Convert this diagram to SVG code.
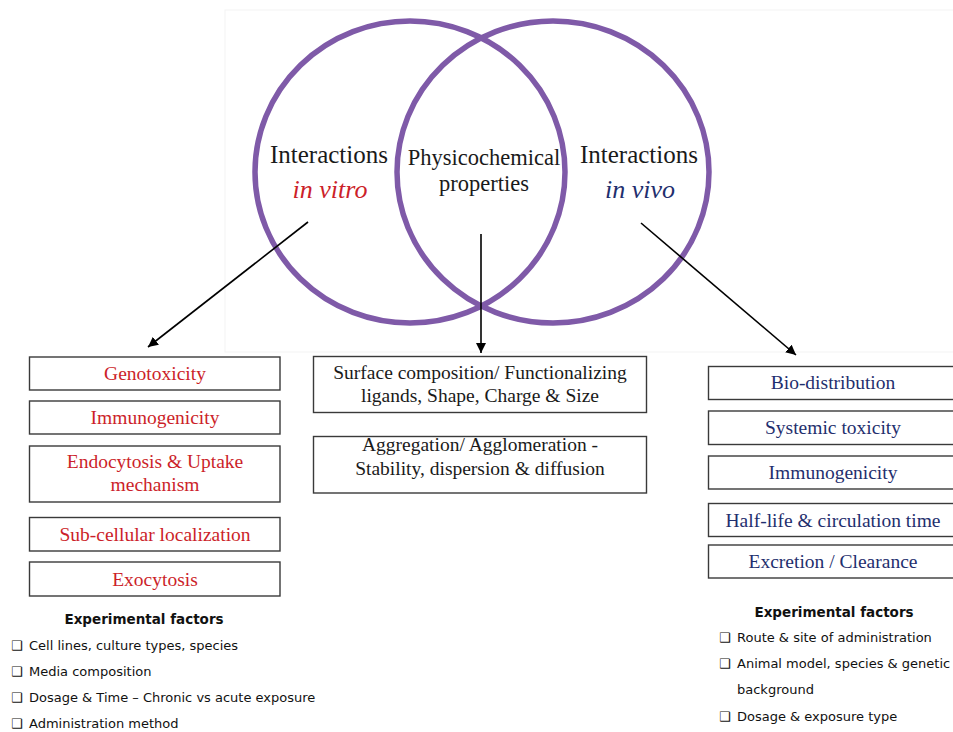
<svg xmlns="http://www.w3.org/2000/svg" width="953" height="732" viewBox="0 0 953 732">
<defs>
<marker id="ah" viewBox="0 0 10 10" refX="10" refY="5" markerWidth="10" markerHeight="10" markerUnits="userSpaceOnUse" orient="auto">
<path d="M0,0 L10,5 L0,10 z" fill="#000"/>
</marker>
<style>
.ring{fill:none;stroke:#7f5aa8;stroke-width:5.5}
.box{fill:#fff;stroke:#3a3a3a;stroke-width:1.4}
.t{font-family:"Liberation Serif",serif;font-size:19.5px;text-anchor:middle}
.red{fill:#cc1f2a}
.navy{fill:#1f2f6e}
.blk{fill:#1a1a1a}
.big{font-family:"Liberation Serif",serif;font-size:25px;text-anchor:middle;fill:#1a1a1a}
.mid{font-family:"Liberation Serif",serif;font-size:22.5px;text-anchor:middle;fill:#1a1a1a}
.it{font-family:"Liberation Serif",serif;font-size:26px;font-style:italic;text-anchor:middle}
.ef{font-family:"DejaVu Sans",sans-serif;font-size:13px;fill:#111}
.eft{font-family:"DejaVu Sans",sans-serif;font-size:13.5px;font-weight:bold;fill:#111;text-anchor:middle}
.conn{stroke:#000;stroke-width:1.6;fill:none}
</style>
</defs>
<rect width="953" height="732" fill="#fff"/>
<rect x="225" y="10" width="740" height="342" fill="none" stroke="#f3f3f3" stroke-width="1"/>

<g id="venn">
<ellipse class="ring" cx="410" cy="172" rx="155" ry="151"/>
<ellipse class="ring" cx="553" cy="172" rx="156" ry="151"/>
</g>

<g id="in-vitro-label">
<text class="big" x="329" y="163">Interactions</text>
<text class="it red" x="330" y="198">in vitro</text>
</g>
<g id="physchem-label">
<text class="mid" x="484" y="165">Physicochemical</text>
<text class="mid" x="484" y="191">properties</text>
</g>
<g id="in-vivo-label">
<text class="big" x="639" y="163">Interactions</text>
<text class="it navy" x="640" y="198">in vivo</text>
</g>

<g id="connectors">
<line class="conn" x1="308" y1="222" x2="148" y2="347" marker-end="url(#ah)"/>
<line class="conn" x1="481" y1="234" x2="481" y2="353" marker-end="url(#ah)"/>
<line class="conn" x1="641" y1="223" x2="796" y2="355" marker-end="url(#ah)"/>
</g>

<g id="genotoxicity"><rect class="box" x="29.5" y="357" width="250.5" height="33"/><text class="t red" x="155" y="380">Genotoxicity</text></g>
<g id="immunogenicity-vitro"><rect class="box" x="29.5" y="401" width="250.5" height="33"/><text class="t red" x="155" y="424">Immunogenicity</text></g>
<g id="endocytosis"><rect class="box" x="29.5" y="446" width="250.5" height="56"/><text class="t red" x="155" y="468">Endocytosis &amp; Uptake</text><text class="t red" x="155" y="491">mechanism</text></g>
<g id="subcellular"><rect class="box" x="29.5" y="517.5" width="250.5" height="33.5"/><text class="t red" x="155" y="541">Sub-cellular localization</text></g>
<g id="exocytosis"><rect class="box" x="29.5" y="562" width="250.5" height="34"/><text class="t red" x="155" y="586">Exocytosis</text></g>

<g id="surface"><rect class="box" x="313.5" y="356.5" width="333" height="56"/><text class="t blk" x="480" y="379">Surface composition/ Functionalizing</text><text class="t blk" x="480" y="402">ligands, Shape, Charge &amp; Size</text></g>
<g id="aggregation"><rect class="box" x="313.5" y="436.5" width="333" height="56.5"/><text class="t blk" x="480" y="451">Aggregation/ Agglomeration -</text><text class="t blk" x="480" y="475">Stability, dispersion &amp; diffusion</text></g>

<g id="biodistribution"><rect class="box" x="708.5" y="366.5" width="260" height="33"/><text class="t navy" x="833" y="389">Bio-distribution</text></g>
<g id="systemic"><rect class="box" x="708.5" y="411" width="260" height="33.5"/><text class="t navy" x="833" y="434">Systemic toxicity</text></g>
<g id="immunogenicity-vivo"><rect class="box" x="708.5" y="456" width="260" height="33"/><text class="t navy" x="833" y="479">Immunogenicity</text></g>
<g id="halflife"><rect class="box" x="708.5" y="503.5" width="260" height="33"/><text class="t navy" x="833" y="527">Half-life &amp; circulation time</text></g>
<g id="excretion"><rect class="box" x="708.5" y="545" width="260" height="33"/><text class="t navy" x="833" y="568">Excretion / Clearance</text></g>

<g id="factors-vitro">
<text class="eft" x="144" y="624">Experimental factors</text>
<text class="ef" x="11" y="650">❑</text><text class="ef" x="29" y="650">Cell lines, culture types, species</text>
<text class="ef" x="11" y="676">❑</text><text class="ef" x="29" y="676">Media composition</text>
<text class="ef" x="11" y="702">❑</text><text class="ef" x="29" y="702">Dosage &amp; Time – Chronic vs acute exposure</text>
<text class="ef" x="11" y="728">❑</text><text class="ef" x="29" y="728">Administration method</text>
</g>
<g id="factors-vivo">
<text class="eft" x="834" y="617">Experimental factors</text>
<text class="ef" x="719" y="642">❑</text><text class="ef" x="737" y="642">Route &amp; site of administration</text>
<text class="ef" x="719" y="668">❑</text><text class="ef" x="737" y="668">Animal model, species &amp; genetic</text>
<text class="ef" x="737" y="694">background</text>
<text class="ef" x="719" y="721">❑</text><text class="ef" x="737" y="721">Dosage &amp; exposure type</text>
</g>
</svg>
